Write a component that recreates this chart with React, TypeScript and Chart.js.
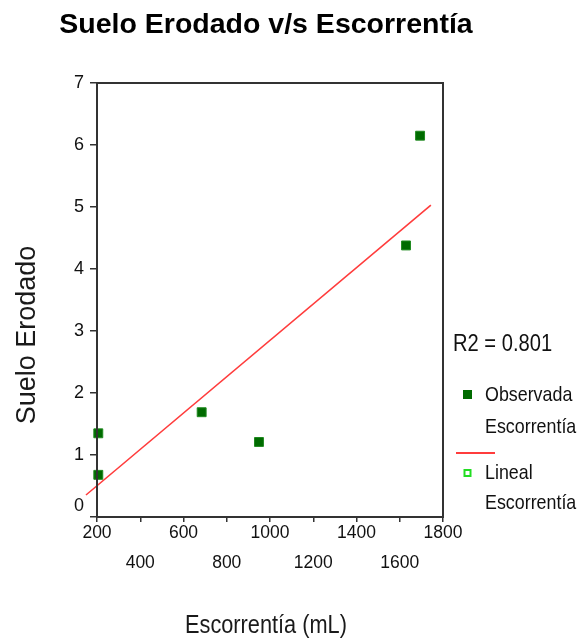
import React, { useEffect, useRef } from "react";
import { Chart, registerables } from "chart.js";

Chart.register(...registerables);

// Observed data
const obsX = [206, 206, 684, 949, 1629, 1694];
const obsY = [1.35, 0.68, 1.69, 1.21, 4.38, 6.15];
// Linear fit endpoints
const fitX = [149, 1744];
const fitY = [0.355, 5.03];

const xTicksTop = [200, 600, 1000, 1400, 1800];
const xTicksBottom = [400, 800, 1200, 1600];

const titleText = "Suelo Erodado v/s Escorrentía";
const yTitle = "Suelo Erodado";
const xTitle = "Escorrentía (mL)";
const r2Text = "R2 = 0.801";
const legendObs = ["Observada", "Escorrentía"];
const legendFit = ["Lineal", "Escorrentía"];

const SANS = "'Liberation Sans', Arial, sans-serif";

function narrowText(ctx: CanvasRenderingContext2D, text: string, x: number, y: number, size: number, sx = 0.82) {
  ctx.save();
  ctx.translate(x, y);
  ctx.scale(sx, 1);
  ctx.font = `${size}px ${SANS}`;
  ctx.textAlign = "left";
  ctx.fillText(text, 0, 0);
  ctx.restore();
}

const overlayPlugin = {
  id: "overlay",
  afterDraw(chart: any) {
    const ctx = chart.ctx as CanvasRenderingContext2D;
    const a = chart.chartArea;
    ctx.save();
    // frame
    ctx.strokeStyle = "#333";
    ctx.lineWidth = 2;
    ctx.strokeRect(a.left, a.top, a.right - a.left, a.bottom - a.top);

    // title
    ctx.fillStyle = "#000";
    ctx.font = `bold 28.5px ${SANS}`;
    ctx.textAlign = "center";
    ctx.textBaseline = "alphabetic";
    ctx.fillText(titleText, 266, 33);

    // y title
    ctx.save();
    ctx.translate(35, 335);
    ctx.rotate(-Math.PI / 2);
    ctx.fillStyle = "#1a1a1a";
    ctx.font = `27px ${SANS}`;
    ctx.textAlign = "center";
    ctx.textBaseline = "alphabetic";
    ctx.fillText(yTitle, 0, 0);
    ctx.restore();

    // x title
    ctx.fillStyle = "#1a1a1a";
    ctx.textBaseline = "alphabetic";
    narrowText(ctx, xTitle, 185, 633, 25, 0.87);

    // R2
    ctx.fillStyle = "#111";
    ctx.textBaseline = "middle";
    narrowText(ctx, r2Text, 453, 344, 24, 0.84);

    // legend
    ctx.fillStyle = "#006b00";
    ctx.fillRect(463, 390, 9, 9);
    ctx.fillStyle = "#111";
    narrowText(ctx, legendObs[0], 485, 395, 21, 0.85);
    narrowText(ctx, legendObs[1], 485, 427, 21, 0.85);

    ctx.strokeStyle = "rgb(255,60,60)";
    ctx.lineWidth = 2;
    ctx.beginPath();
    ctx.moveTo(456, 453);
    ctx.lineTo(495, 453);
    ctx.stroke();

    ctx.strokeStyle = "#22dd22";
    ctx.lineWidth = 2;
    ctx.strokeRect(464.5, 470, 6, 6);
    ctx.fillStyle = "#111";
    narrowText(ctx, legendFit[0], 485, 473, 21, 0.85);
    narrowText(ctx, legendFit[1], 485, 503, 21, 0.85);
    ctx.restore();
  },
};

export default function App() {
  const ref = useRef<HTMLCanvasElement>(null);
  useEffect(() => {
    const canvas = ref.current;
    if (!canvas) return;
    const chart = new Chart(canvas, {
      type: "scatter",
      data: {
        datasets: [
          {
            label: "Observada Escorrentía",
            data: obsX.map((x, i) => ({ x, y: obsY[i] })),
            pointStyle: "rect",
            pointRadius: 6.3,
            pointHoverRadius: 6.3,
            backgroundColor: "#006b00",
            borderColor: "#1f8a1f",
            borderWidth: 1,
            clip: false as any,
          },
          {
            label: "Lineal Escorrentía",
            data: fitX.map((x, i) => ({ x, y: fitY[i] })),
            showLine: true,
            pointRadius: 0,
            borderColor: "rgb(255,60,60)",
            borderWidth: 1.6,
            clip: false as any,
          },
        ],
      },
      options: {
        animation: false,
        responsive: true,
        maintainAspectRatio: false,
        layout: { padding: { left: 57, right: 138, top: 83, bottom: 51 } },
        plugins: {
          legend: { display: false },
          title: { display: false },
          tooltip: { enabled: false },
        },
        scales: {
          x: {
            type: "linear",
            min: 200,
            max: 1800,
            afterFit(scale: any) {
              scale.height = 70;
            },
            ticks: {
              stepSize: 200,
              autoSkip: false,
              maxRotation: 0,
              padding: -4,
              color: "#111",
              font: { family: SANS, size: 17.5, lineHeight: 1.72 },
              callback: (v: any) => {
                const n = Number(v);
                if (xTicksBottom.includes(n)) return ["", String(n)];
                if (xTicksTop.includes(n)) return String(n);
                return "";
              },
            },
            grid: { display: true, drawOnChartArea: false, drawTicks: true, tickLength: 5, color: "#333", lineWidth: 1.5 },
            border: { display: true, color: "#333", width: 2 },
          },
          y: {
            type: "linear",
            min: 0,
            max: 7,
            afterFit(scale: any) {
              scale.width = 40;
            },
            ticks: {
              stepSize: 1,
              padding: 6,
              color: "#111",
              font: { family: SANS, size: 18, lineHeight: 1.2 },
              callback: (v: any) => (Number(v) === 0 ? ["0", ""] : String(v)),
            },
            grid: { display: true, drawOnChartArea: false, drawTicks: true, tickLength: 7, color: "#333", lineWidth: 1.5 },
            border: { display: true, color: "#333", width: 2 },
          },
        },
      },
      plugins: [overlayPlugin],
    });
    return () => chart.destroy();
  }, []);
  return (
    <div style={{ position: "fixed", left: 0, top: 0, width: 581, height: 638, background: "#fff" }}>
      <canvas ref={ref} />
    </div>
  );
}
